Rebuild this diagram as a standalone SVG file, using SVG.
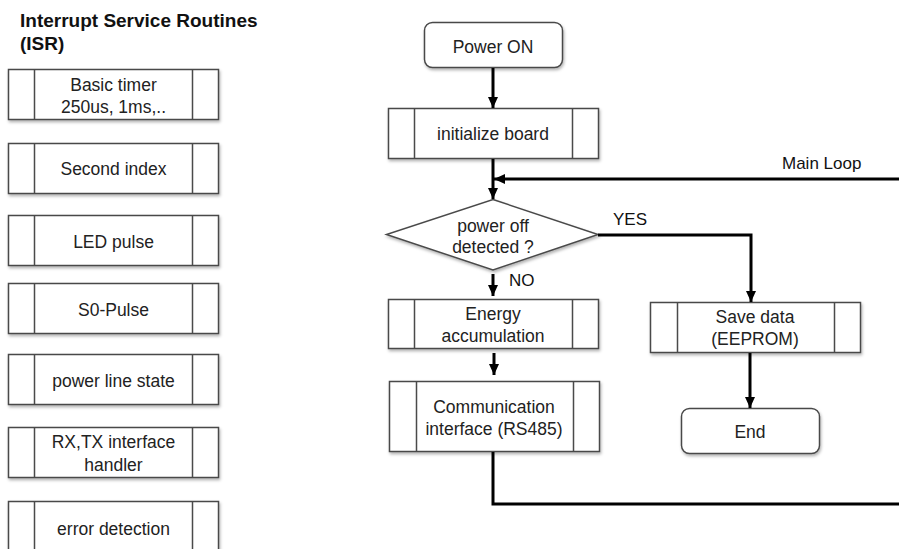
<svg xmlns="http://www.w3.org/2000/svg" width="899" height="549" viewBox="0 0 899 549">
<style>
  .box { fill: #ffffff; stroke: #4a4a4a; stroke-width: 1.5; filter: url(#sh); }
  .div { stroke: #4a4a4a; stroke-width: 1.5; fill: none; }
  .t { font-family: "Liberation Sans", Arial, sans-serif; font-size: 17.5px; fill: #222222; text-anchor: middle; }
  .lbl { font-family: "Liberation Sans", Arial, sans-serif; font-size: 17px; fill: #111111; }
  .title { font-family: "Liberation Sans", Arial, sans-serif; font-size: 19px; font-weight: bold; fill: #111111; }
  .con { stroke: #000000; stroke-width: 3; fill: none; }
</style>
<defs>
  <filter id="sh" x="-10%" y="-10%" width="125%" height="135%">
    <feDropShadow dx="1" dy="2" stdDeviation="1.5" flood-color="#000000" flood-opacity="0.3"/>
  </filter>
  <marker id="ah" markerUnits="userSpaceOnUse" markerWidth="12" markerHeight="12" viewBox="0 0 12 12" refX="11" refY="6" orient="auto">
    <path d="M0,1 L11,6 L0,11 Z" fill="#000000"/>
  </marker>
</defs>
<rect width="899" height="549" fill="#ffffff"/>

<g id="isr-title">
  <text class="title" x="20" y="27">Interrupt Service Routines</text>
  <text class="title" x="20" y="50">(ISR)</text>
</g>

<g id="isr-basic-timer">
  <rect class="box" x="8.5" y="69.5" width="210" height="50"/>
  <path class="div" d="M34.5,69.5 V119.5 M192.5,69.5 V119.5"/>
  <text class="t" x="113.5" y="91">Basic timer</text>
  <text class="t" x="113.5" y="113">250us, 1ms,..</text>
</g>
<g id="isr-second-index">
  <rect class="box" x="8.5" y="143.5" width="210" height="50"/>
  <path class="div" d="M34.5,143.5 V193.5 M192.5,143.5 V193.5"/>
  <text class="t" x="113.5" y="175">Second index</text>
</g>
<g id="isr-led-pulse">
  <rect class="box" x="8.5" y="215.5" width="210" height="50"/>
  <path class="div" d="M34.5,215.5 V265.5 M192.5,215.5 V265.5"/>
  <text class="t" x="113.5" y="248">LED pulse</text>
</g>
<g id="isr-s0-pulse">
  <rect class="box" x="8.5" y="283.5" width="210" height="50"/>
  <path class="div" d="M34.5,283.5 V333.5 M192.5,283.5 V333.5"/>
  <text class="t" x="113.5" y="316">S0-Pulse</text>
</g>
<g id="isr-power-line">
  <rect class="box" x="8.5" y="354.5" width="210" height="50"/>
  <path class="div" d="M34.5,354.5 V404.5 M192.5,354.5 V404.5"/>
  <text class="t" x="113.5" y="387">power line state</text>
</g>
<g id="isr-rxtx">
  <rect class="box" x="8.5" y="427.5" width="210" height="50"/>
  <path class="div" d="M34.5,427.5 V477.5 M192.5,427.5 V477.5"/>
  <text class="t" x="113.5" y="448">RX,TX interface</text>
  <text class="t" x="113.5" y="471">handler</text>
</g>
<g id="isr-error">
  <rect class="box" x="8.5" y="501.5" width="210" height="52"/>
  <path class="div" d="M34.5,501.5 V553 M192.5,501.5 V553"/>
  <text class="t" x="113.5" y="535">error detection</text>
</g>

<g id="power-on">
  <rect class="box" x="424.5" y="22.5" width="138" height="45" rx="8" ry="8"/>
  <text class="t" x="493" y="53">Power ON</text>
</g>
<g id="init-board">
  <rect class="box" x="388.5" y="108.5" width="210" height="50"/>
  <path class="div" d="M414.5,108.5 V158.5 M572.5,108.5 V158.5"/>
  <text class="t" x="493" y="140">initialize board</text>
</g>
<g id="decision">
  <polygon class="box" points="493,199.5 598,234.5 493,270 386.5,234.5"/>
  <text class="t" x="493" y="232">power off</text>
  <text class="t" x="493" y="253">detected ?</text>
</g>
<g id="energy">
  <rect class="box" x="388.5" y="299.5" width="210" height="49"/>
  <path class="div" d="M414.5,299.5 V348.5 M572.5,299.5 V348.5"/>
  <text class="t" x="493" y="320">Energy</text>
  <text class="t" x="493" y="342">accumulation</text>
</g>
<g id="communication">
  <rect class="box" x="389.5" y="381.5" width="210" height="70"/>
  <path class="div" d="M416.5,381.5 V451.5 M573.5,381.5 V451.5"/>
  <text class="t" x="494" y="413">Communication</text>
  <text class="t" x="494" y="435">interface (RS485)</text>
</g>
<g id="save-data">
  <rect class="box" x="650.5" y="302.5" width="210" height="50"/>
  <path class="div" d="M677.5,302.5 V352.5 M834.5,302.5 V352.5"/>
  <text class="t" x="755" y="323">Save data</text>
  <text class="t" x="755" y="345">(EEPROM)</text>
</g>
<g id="end">
  <rect class="box" x="681.5" y="408.5" width="138" height="45" rx="8" ry="8"/>
  <text class="t" x="750" y="438">End</text>
</g>

<g id="connectors">
  <line class="con" x1="493" y1="68" x2="493" y2="108" marker-end="url(#ah)"/>
  <line class="con" x1="493" y1="159" x2="493" y2="199" marker-end="url(#ah)"/>
  <line class="con" x1="899" y1="179" x2="494" y2="179" marker-end="url(#ah)"/>
  <polyline class="con" points="598,235 751,235 751,302" marker-end="url(#ah)"/>
  <line class="con" x1="493" y1="274" x2="493" y2="296" marker-end="url(#ah)"/>
  <line class="con" x1="494" y1="353" x2="494" y2="375" marker-end="url(#ah)"/>
  <polyline class="con" points="493,452 493,504 899,504"/>
  <line class="con" x1="750" y1="353" x2="750" y2="408" marker-end="url(#ah)"/>
  <text class="lbl" x="782" y="169">Main Loop</text>
  <text class="lbl" x="613" y="225">YES</text>
  <text class="lbl" x="509" y="286">NO</text>
</g>
</svg>
